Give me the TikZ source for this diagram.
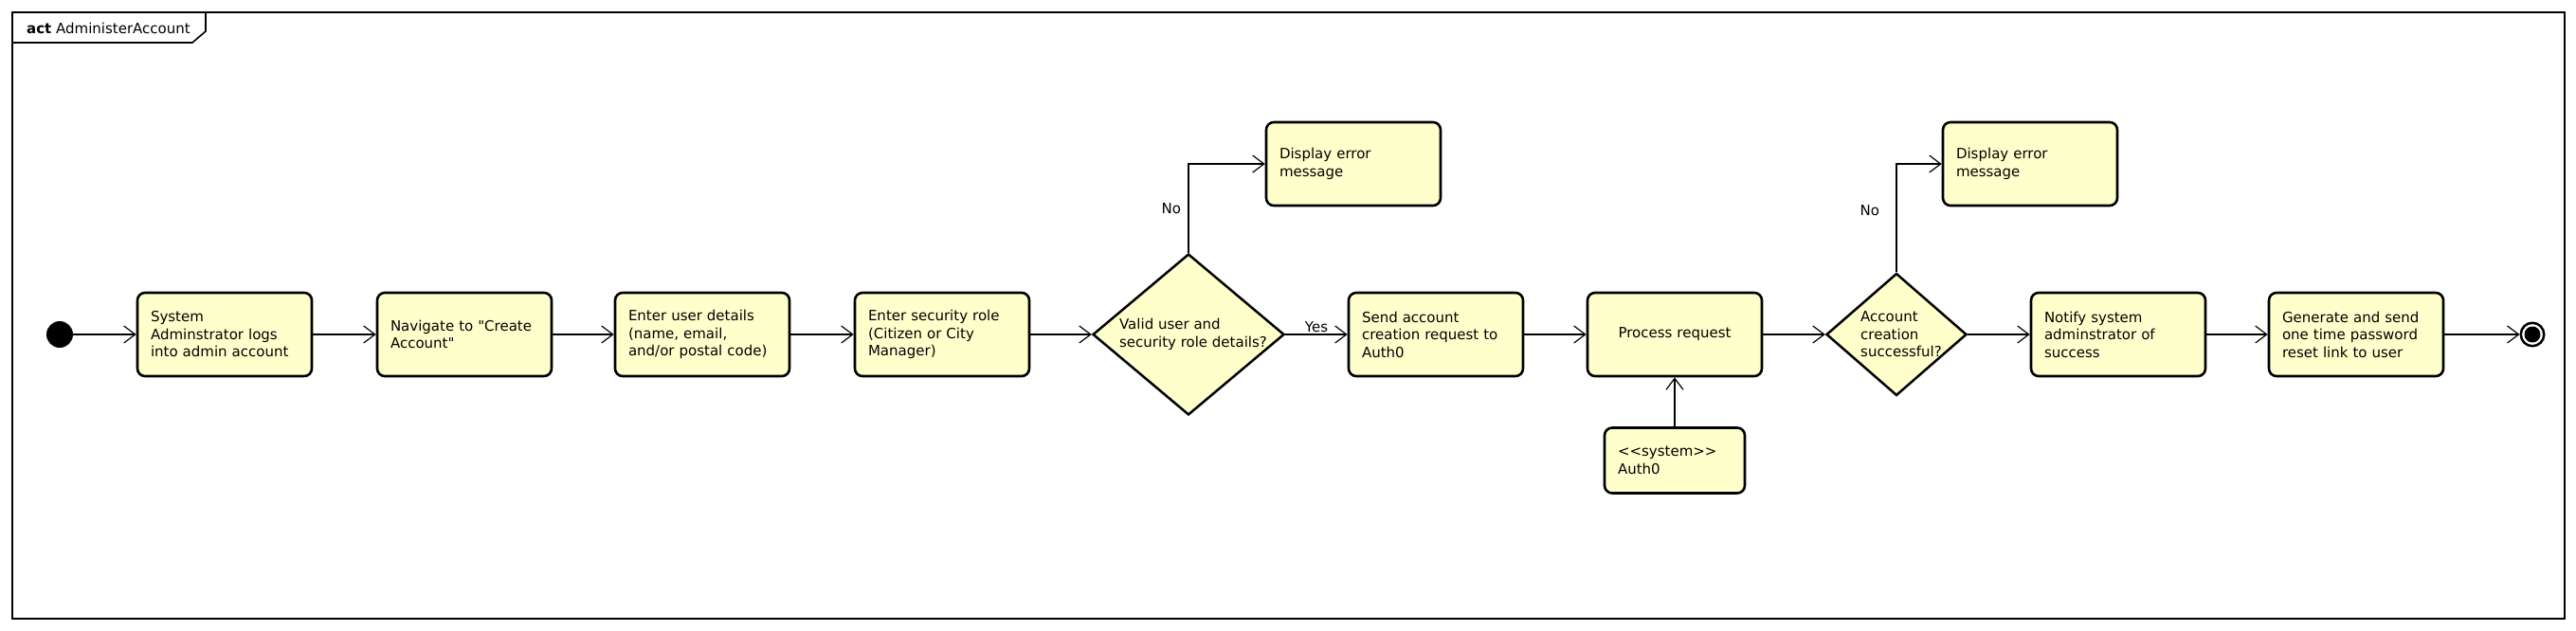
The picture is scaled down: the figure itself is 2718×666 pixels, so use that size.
\documentclass[tikz,border=0pt]{standalone}
\usepackage{fontspec}
\usetikzlibrary{arrows.meta, shapes.geometric}
\newfontfamily\umlfont{DejaVu Sans}
\definecolor{actFill}{RGB}{255,255,204}
\newcommand*{\action}[5][]{% name, x, y, text, extra options (possibly empty)
    \node (#2) at (#3,#4) [action, #1] {#5};
}
\newcommand*{\decision}[6]{% name, x, y, width, height, text
    \node (#1) at (#2,#3) [decision, minimum width=#4pt, minimum height=#5pt, label={[align=left, xshift=5pt]center:#6}] {};
}

\begin{document}
\begin{tikzpicture}[x=1pt, y=-1pt, font=\umlfont\fontsize{15pt}{18.5pt}\selectfont,
    action/.style={draw, line width=2.6pt, rounded corners=8pt, fill=actFill, minimum width=184pt, minimum height=88pt, text width=156pt, inner xsep=14pt, inner ysep=0pt, align=left},
    decision/.style={diamond, draw, line width=2.5pt, fill=actFill, inner sep=0pt},
    flow/.style={line width=1.2pt, -{Straight Barb[length=12pt, width=18pt, line width=1.2pt]}}] {
\useasboundingbox (0,0) rectangle (2718,666);
% frame and its name tab
\draw[line width=2pt] (13,13) rectangle (2706,653);
\draw[line width=1.6pt] (13,45) -- (203,45) -- (217,33) -- (217,13);
\node (title) at (28,30) [anchor=west, inner sep=0pt] {\textbf{act} AdministerAccount};
% start and end
\node (init) at (63,353) [circle, fill=black, minimum size=28pt, inner sep=0pt] {};
\node (final) at (2672,353) [circle, draw, line width=2.5pt, fill=white, minimum size=24.5pt, inner sep=0pt,
    path picture={\fill[black] (path picture bounding box.center) circle (8.5pt);}] {};
% actions
\action{a1}{237}{353}{System\\Adminstrator logs\\into admin account}
\action{a2}{490}{353}{Navigate to "Create\\Account"}
\action{a3}{741}{353}{Enter user details\\(name, email,\\and/or postal code)}
\action{a4}{994}{353}{Enter security role\\(Citizen or City\\Manager)}
\decision{d1}{1254}{353}{202}{170}{Valid user and\\security role details?}
\action{a5}{1515}{353}{Send account\\creation request to\\Auth0}
\action[align=center]{a6}{1767}{353}{Process request}
\decision{d2}{2001}{353}{148}{129}{Account\\creation\\successful?}
\action{a7}{2235}{353}{Notify system\\adminstrator of\\success}
\action{a8}{2486}{353}{Generate and send\\one time password\\reset link to user}
\action{err1}{1428}{173}{Display error\\message}
\action{err2}{2142}{173}{Display error\\message}
\action[minimum width=148pt, minimum height=69pt, text width=120pt]{auth}{1767}{486}{<<system>>\\Auth0}
% flows
\foreach \from/\to in {init/a1, a1/a2, a2/a3, a3/a4, a4/d1, a5/a6, a6/d2, d2/a7, a7/a8, a8/final}
    \draw[flow] (\from) -- (\to);
\draw[flow] (d1) -- (a5) node[pos=0.5, above, inner sep=2pt] {Yes};
\draw[flow] (d1.north) |- (err1.west) node[pos=0.25, left, xshift=-4pt] {No};
\draw[flow] (d2.north) |- (err2.west) node[pos=0.285, left, xshift=-14pt] {No};
\draw[flow] (auth) -- (a6);
}\end{tikzpicture}
\end{document}
